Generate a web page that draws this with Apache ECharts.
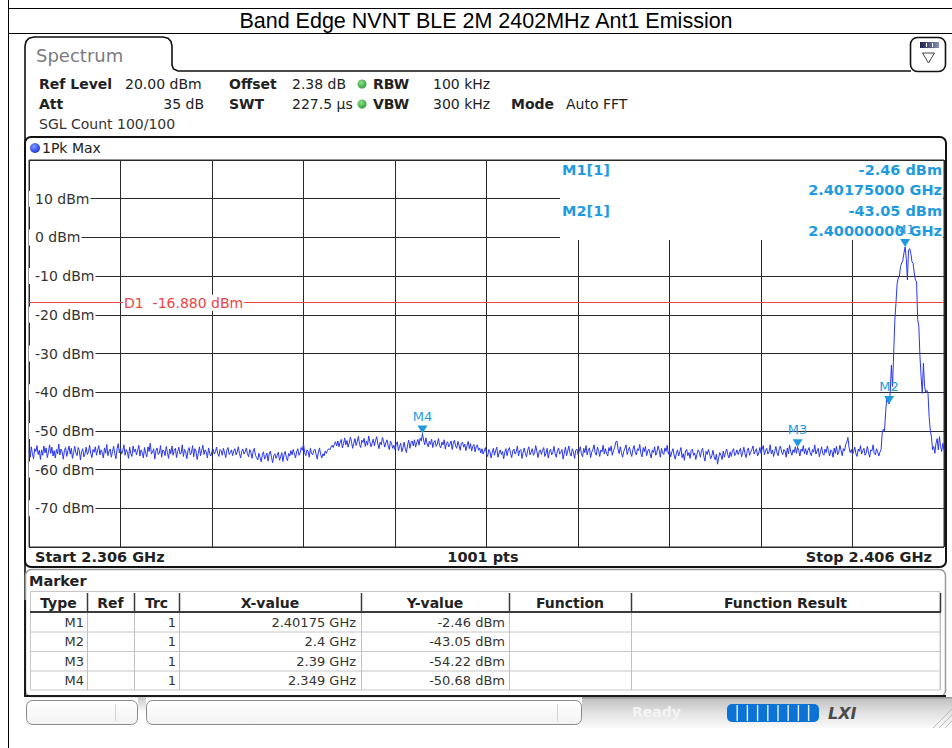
<!DOCTYPE html>
<html>
<head>
<meta charset="utf-8">
<script src="https://cdn.jsdelivr.net/npm/echarts@6/dist/echarts.min.js"></script>
<style>
  html, body { margin: 0; padding: 0; background: #fff; }
  #chart { width: 952px; height: 748px; }
</style>
</head>
<body>
<div id="chart"></div>
<script>
// ---- sweep settings ----
const startGHz = 2.306;
const stopGHz = 2.406;
const sweepPoints = 1001;
const traceStepGHz = 0.000125;         // spacing of the stored trace samples
const displayLineDbm = -16.88;         // D1 limit line

// ---- trace 1 (Pk Max), dBm, one value per 0.125 MHz from 2.306 GHz ----
const traceDbm = [
  -55.2,-56.8,-54.1,-55.9,-57.2,-54.6,-55.3,-53.8,-56.1,-55.0,-57.4,-54.9,-56.3,-53.9,-55.7,-54.4,-56.9,-55.5,-53.6,-55.8,
  -54.2,-56.5,-55.1,-57.0,-54.8,-55.9,-53.4,-56.2,-54.7,-55.4,-57.3,-55.0,-54.3,-56.6,-55.2,-53.9,-56.0,-54.5,-57.1,-55.6,
  -54.0,-55.7,-56.4,-54.3,-55.1,-57.5,-55.3,-54.6,-56.7,-55.9,-54.2,-56.1,-55.4,-53.7,-55.8,-56.9,-54.8,-55.5,-54.1,-56.3,
  -55.0,-53.8,-56.2,-54.9,-55.6,-57.0,-54.4,-55.8,-53.5,-56.4,-55.2,-54.7,-56.8,-55.3,-54.0,-55.9,-57.2,-54.6,-53.3,-55.7,
  -54.5,-56.0,-55.1,-53.6,-56.3,-54.8,-55.5,-57.1,-54.2,-55.9,-56.6,-53.9,-55.4,-54.7,-56.2,-55.0,-53.7,-56.5,-54.9,-55.6,
  -57.0,-54.3,-55.8,-56.7,-54.1,-55.3,-53.2,-56.0,-55.5,-54.6,-57.3,-55.1,-54.4,-56.1,-55.7,-53.8,-56.8,-54.9,-55.2,-56.4,
  -54.0,-55.6,-57.1,-54.7,-55.9,-53.9,-56.3,-55.0,-54.5,-56.9,-55.3,-54.2,-56.0,-55.8,-53.6,-56.6,-54.8,-55.4,-57.2,-55.1,
  -54.3,-56.2,-55.7,-53.8,-56.7,-54.6,-55.2,-57.4,-55.9,-54.1,-56.4,-55.0,-53.7,-56.1,-54.9,-55.5,-57.0,-54.4,-55.8,-56.5,
  -55.3,-54.7,-56.0,-55.4,-54.2,-55.9,-56.6,-54.8,-55.1,-56.3,-54.5,-55.7,-56.9,-55.0,-54.3,-56.1,-55.6,-54.9,-56.4,-55.2,
  -54.6,-56.2,-55.5,-54.1,-55.8,-57.0,-55.3,-54.7,-56.0,-55.4,-54.4,-55.9,-56.7,-54.8,-55.6,-57.1,-55.2,-54.5,-56.3,-56.9,
  -57.5,-55.8,-56.9,-58.0,-56.2,-55.4,-57.3,-56.6,-55.7,-57.8,-56.0,-55.2,-56.8,-58.2,-56.4,-55.9,-57.1,-56.3,-55.5,-57.6,
  -56.7,-55.6,-57.9,-56.1,-55.3,-56.9,-57.7,-55.8,-56.5,-55.1,-56.2,-54.8,-55.9,-57.0,-55.4,-54.6,-56.3,-55.7,-54.3,-55.0,
  -53.4,-55.6,-56.4,-54.9,-55.3,-56.8,-54.5,-55.8,-56.2,-55.1,-54.7,-56.0,-57.3,-55.5,-54.4,-56.1,-57.0,-55.9,-56.5,-55.2,
  -55.8,-55.0,-54.6,-54.9,-54.2,-53.7,-54.3,-53.4,-52.8,-53.9,-52.6,-54.1,-53.0,-52.2,-54.4,-53.3,-51.8,-53.6,-52.5,-54.2,
  -53.1,-51.6,-52.9,-54.5,-53.2,-52.0,-53.8,-52.7,-51.4,-53.5,-54.3,-52.4,-53.0,-51.9,-54.0,-52.6,-53.7,-51.3,-52.8,-54.1,
  -53.2,-52.1,-53.9,-52.5,-51.5,-53.4,-54.6,-52.9,-53.6,-51.7,-52.7,-54.2,-53.1,-52.3,-53.8,-54.8,-52.6,-53.3,-54.5,-53.7,
  -54.9,-53.5,-52.8,-55.1,-54.0,-53.2,-55.4,-54.3,-52.9,-54.7,-55.6,-53.6,-52.4,-54.5,-53.1,-52.6,-53.9,-52.3,-54.2,-53.0,
  -52.2,-53.7,-51.9,-52.6,-50.68,-52.4,-53.6,-51.8,-53.2,-54.1,-52.7,-53.5,-52.1,-54.3,-53.0,-52.5,-54.0,-53.4,-52.0,-53.8,
  -54.4,-52.9,-53.6,-52.3,-54.7,-53.3,-52.8,-54.1,-53.5,-52.6,-54.8,-53.1,-52.4,-53.9,-54.5,-52.7,-53.7,-55.0,-53.2,-52.9,
  -54.2,-53.4,-55.1,-53.8,-52.7,-54.6,-53.3,-55.2,-54.0,-53.5,-55.4,-54.1,-53.6,-55.0,-54.4,-55.7,-54.6,-56.0,-55.2,-54.3,
  -55.9,-56.6,-54.8,-55.4,-57.0,-55.6,-54.5,-56.3,-55.1,-54.2,-56.8,-55.7,-54.9,-56.1,-55.3,-57.2,-55.5,-54.6,-56.4,-55.0,
  -54.3,-55.8,-56.9,-55.2,-54.7,-56.0,-55.4,-53.9,-56.5,-55.1,-54.8,-57.1,-55.6,-54.4,-55.9,-56.7,-55.0,-54.1,-56.2,-55.5,
  -54.6,-56.3,-55.7,-53.8,-55.2,-56.9,-55.4,-54.9,-56.1,-55.0,-54.3,-56.6,-55.8,-54.5,-57.0,-55.3,-54.7,-56.2,-55.6,-54.0,
  -55.9,-56.8,-55.1,-54.4,-56.0,-55.5,-54.8,-57.3,-55.7,-54.2,-56.4,-55.2,-53.9,-55.8,-56.5,-54.6,-55.4,-57.1,-55.0,-54.7,
  -56.1,-55.3,-54.1,-55.9,-56.7,-54.5,-55.6,-53.8,-56.2,-55.0,-54.4,-56.9,-55.5,-54.8,-53.6,-55.7,-56.3,-54.2,-55.1,-56.6,
  -54.9,-55.4,-53.7,-56.0,-54.6,-55.8,-56.5,-54.3,-55.2,-53.9,-56.3,-55.0,-54.4,-52.9,-52.6,-54.7,-55.9,-54.1,-55.6,-56.8,
  -55.3,-54.5,-53.6,-56.1,-55.0,-54.2,-55.7,-56.6,-54.8,-53.8,-55.5,-56.2,-54.6,-55.1,-53.5,-55.9,-56.7,-54.3,-55.4,-54.0,
  -56.4,-55.2,-54.7,-55.8,-57.0,-54.9,-55.6,-54.1,-56.3,-55.5,-53.9,-55.0,-56.8,-54.5,-55.7,-56.1,-54.4,-55.3,-53.7,-56.0,
  -55.1,-56.7,-55.5,-54.6,-56.2,-57.3,-55.8,-54.9,-56.5,-55.4,-54.3,-56.9,-55.9,-57.6,-55.2,-54.8,-56.4,-55.6,-57.1,-55.0,
  -54.7,-56.3,-55.7,-57.4,-56.0,-54.9,-55.5,-56.8,-55.1,-54.5,-56.6,-57.8,-55.3,-56.1,-54.8,-55.9,-57.2,-56.4,-55.0,-56.7,
  -57.5,-56.0,-58.6,-56.9,-55.6,-56.3,-57.4,-55.2,-56.8,-55.5,-54.7,-56.2,-57.0,-55.4,-56.6,-55.1,-54.6,-56.4,-55.8,-54.9,
  -56.1,-55.3,-54.5,-56.7,-55.6,-54.2,-55.9,-56.9,-55.0,-54.4,-56.3,-55.5,-54.8,-53.9,-56.0,-55.2,-54.6,-56.5,-55.7,-54.3,
  -55.8,-54.7,-53.8,-56.2,-55.1,-54.5,-56.0,-55.4,-53.6,-55.9,-54.9,-56.6,-55.3,-54.0,-55.7,-56.4,-54.6,-53.9,-55.5,-56.1,
  -54.8,-55.2,-56.8,-54.4,-55.9,-53.7,-55.4,-56.3,-54.9,-55.6,-54.1,-55.8,-54.22,-55.0,-56.5,-54.7,-55.3,-53.8,-55.9,-54.6,
  -56.2,-55.0,-54.3,-55.7,-56.4,-54.8,-55.5,-53.6,-56.0,-55.2,-54.5,-56.7,-55.4,-54.1,-55.9,-56.3,-54.7,-55.6,-53.9,-55.1,
  -56.5,-54.9,-55.3,-56.8,-54.4,-55.8,-54.0,-56.2,-55.5,-53.7,-55.0,-56.4,-54.6,-55.2,-53.5,-52.9,-51.7,-54.3,-55.6,-54.8,
  -56.1,-55.4,-54.2,-55.9,-56.6,-54.7,-55.3,-53.8,-56.0,-55.1,-54.5,-56.3,-55.7,-54.0,-55.5,-56.8,-54.9,-55.2,-53.6,-55.8,
  -56.2,-54.6,-55.4,-56.5,-55.5,
  -54.8,-50.5,-49.5,-50.0,-45.0,-41.5,-42.5,-43.05,-40.0,-33.0,-38.5,-30.0,-21.5,-17.0,-12.0,
  -10.5,-10.0,-7.5,-6.6,-6.0,-4.0,-2.46,-5.5,-11.0,-3.3,-2.9,-4.1,-6.3,-6.7,-9.2,
  -11.0,-11.4,-21.3,-23.0,-30.8,-36.0,-40.3,-32.5,-38.5,-40.0,-39.5,-40.3,-46.3,-49.8,-51.5,
  -54.9,-54.0,-55.8,-53.2,-52.0,-54.9,-51.5,-54.1,-55.3,-53.2,-54.9
];

// ---- markers ----
const markerNames = ['M1', 'M2', 'M3', 'M4'];
const markerTrace = [1, 1, 1, 1];
const markerFreqGHz = [2.40175, 2.4, 2.39, 2.349];
const markerLevelDbm = [-2.46, -43.05, -54.22, -50.68];

// ---- level axis ----
const levelMinDbm = -80;
const levelMaxDbm = 20;
const levelStepDbm = 10;
const freqDivisions = 10;

// ---- instrument settings shown in the header ----
const settingsRow1 = [['Ref Level', '20.00 dBm'], ['Offset', '2.38 dB'], ['RBW', '100 kHz']];
const settingsRow2 = [['Att', '35 dB'], ['SWT', '227.5 \u00b5s'], ['VBW', '300 kHz'], ['Mode', 'Auto FFT']];
const sweepCountText = 'SGL Count 100/100';
const traceModeText = '1Pk Max';
const titleText = 'Band Edge NVNT BLE 2M 2402MHz Ant1 Emission';
const tableColumns = ['Type', 'Ref', 'Trc', 'X-value', 'Y-value', 'Function', 'Function Result'];

// ---------------------------------------------------------------
const UI = '"DejaVu Sans", Verdana, sans-serif';
const MARK_BLUE = '#1e9be0';
const TRACE_BLUE = '#2a36ee';
const GRID = '#2a2a2a';

const traceData = traceDbm.map((v, i) => [startGHz + i * traceStepGHz, v]);

function T(x, y, text, size, o) {
  o = o || {};
  const align = o.align || 'left';
  return {
    type: 'text', z: o.z != null ? o.z : 20, silent: true,
    style: {
      x: x, y: y, text: text,
      fill: o.color || '#222',
      font: (o.style ? o.style + ' ' : '') + (o.weight || 'normal') + ' ' + size + 'px ' + (o.family || UI),
      textAlign: align, align: align,
      textVerticalAlign: 'middle', verticalAlign: 'middle'
    }
  };
}
function L(x1, y1, x2, y2, color, w, z) {
  return { type: 'line', z: z != null ? z : 20, silent: true,
    shape: { x1: x1, y1: y1, x2: x2, y2: y2 },
    style: { stroke: color, lineWidth: w } };
}
function R(x, y, w, h, o) {
  return { type: 'rect', z: o.z != null ? o.z : 20, silent: true,
    shape: { x: x, y: y, width: w, height: h, r: o.r || 0 },
    style: { fill: o.fill || 'none', stroke: o.stroke || null, lineWidth: o.lw || 1 } };
}
function vgrad(stops) {
  return new echarts.graphic.LinearGradient(0, 0, 0, 1, stops.map(s => ({ offset: s[0], color: s[1] })));
}
function dot(cx, cy, r, inner, outer) {
  return { type: 'circle', z: 20, silent: true, shape: { cx: cx, cy: cy, r: r },
    style: { fill: new echarts.graphic.RadialGradient(0.4, 0.35, 0.7, [{ offset: 0, color: inner }, { offset: 1, color: outer }]) } };
}

const g = [];

// page frame and title
g.push(L(8.5, 0, 8.5, 748, '#000', 1));
g.push(L(8, 8.5, 952, 8.5, '#000', 1));
g.push(L(8, 33.5, 952, 33.5, '#000', 1));
g.push(T(486, 21, titleText, 21.5, { family: '"Liberation Sans", Arial, sans-serif', align: 'center', color: '#000' }));

// tab outline + left frame
g.push({ type: 'polyline', z: 20, silent: true,
  shape: { points: [[25, 697], [25, 46], [26, 41.5], [29, 38.3], [34, 37], [163, 37], [168, 38.3], [171, 41.5], [172, 46],
    [172, 65], [173.5, 69], [178, 71], [911, 71]] },
  style: { fill: 'none', stroke: '#111', lineWidth: 1.6 } });
g.push(T(36, 55, 'Spectrum', 18, { color: '#7c7c7c' }));

// view icon
g.push(R(910.5, 37.5, 35, 34, { r: 7, stroke: '#111', lw: 1.6, fill: '#fff' }));
g.push(R(920, 42, 19, 6, { fill: new echarts.graphic.LinearGradient(0, 0, 1, 0, [{ offset: 0, color: '#1c2250' }, { offset: 1, color: '#8a90b0' }]) }));
g.push(L(926.5, 43, 926.5, 47, '#fff', 1));
g.push(L(932.5, 43, 932.5, 47, '#fff', 1));
g.push({ type: 'polygon', z: 20, silent: true, shape: { points: [[922.5, 53], [934.5, 53], [928.5, 63]] },
  style: { fill: '#fff', stroke: '#444', lineWidth: 1 } });

// header settings
g.push(T(39, 84, settingsRow1[0][0], 14, { weight: 'bold' }));
g.push(T(125, 84, settingsRow1[0][1], 14));
g.push(T(229, 84, settingsRow1[1][0], 14, { weight: 'bold' }));
g.push(T(292, 84, settingsRow1[1][1], 14));
g.push(T(373, 84, settingsRow1[2][0], 14, { weight: 'bold' }));
g.push(T(433, 84, settingsRow1[2][1], 14));
g.push(T(39, 104, settingsRow2[0][0], 14, { weight: 'bold' }));
g.push(T(204, 104, settingsRow2[0][1], 14, { align: 'right' }));
g.push(T(229, 104, settingsRow2[1][0], 14, { weight: 'bold' }));
g.push(T(292, 104, settingsRow2[1][1], 14));
g.push(T(373, 104, settingsRow2[2][0], 14, { weight: 'bold' }));
g.push(T(433, 104, settingsRow2[2][1], 14));
g.push(T(511, 104, settingsRow2[3][0], 14, { weight: 'bold' }));
g.push(T(566, 104, settingsRow2[3][1], 14));
g.push(dot(362, 84, 4.5, '#8fe08f', '#2f9a35'));
g.push(dot(362, 104, 4.5, '#8fe08f', '#2f9a35'));
g.push(T(39, 124, sweepCountText, 14, { color: '#333' }));

// diagram frame
g.push(R(25, 137, 921, 430, { r: 6, stroke: '#111', lw: 2 }));
g.push(dot(35, 148, 5, '#7f9cff', '#1530d8'));
g.push(T(42, 148, traceModeText, 14));
g.push(T(35, 557, 'Start ' + startGHz + ' GHz', 14.5, { weight: 'bold' }));
g.push(T(483, 557, sweepPoints + ' pts', 14.5, { weight: 'bold', align: 'center' }));
g.push(T(932, 557, 'Stop ' + stopGHz + ' GHz', 14.5, { weight: 'bold', align: 'right' }));

// marker readout (M1, M2)
g.push(R(560, 161, 383, 79, { fill: '#fff', z: 1 }));
[0, 1].forEach(k => {
  const y0 = 170 + k * 41;
  g.push(T(562, y0, markerNames[k] + '[' + markerTrace[k] + ']', 14.5, { weight: 'bold', color: MARK_BLUE, z: 3 }));
  g.push(T(942, y0, markerLevelDbm[k].toFixed(2) + ' dBm', 14.5, { weight: 'bold', color: MARK_BLUE, align: 'right', z: 3 }));
  g.push(T(942, y0 + 19.5, markerFreqGHz[k].toFixed(8) + ' GHz', 14.5, { weight: 'bold', color: MARK_BLUE, align: 'right', z: 3 }));
});

// marker table
g.push(R(25.5, 569.5, 920, 127, { r: 6, stroke: '#9a9a9a', lw: 1.5, fill: 'none' }));
g.push(L(25, 696, 946, 696, '#1a1a1a', 2));
g.push(L(25, 600, 25, 697, '#1a1a1a', 2));
g.push(T(29, 581, 'Marker', 14.5, { weight: 'bold' }));
const colX = [30, 87, 134, 179, 361, 509, 631, 940];
g.push(R(30.5, 591.5, 909.5, 98.5, { stroke: '#c6c6c6', lw: 1 }));
for (let c = 1; c < colX.length; c++) {
  g.push(L(colX[c] + 0.5, 593, colX[c] + 0.5, 612, '#3a3a3a', 1.5));
  g.push(L(colX[c] + 0.5, 612, colX[c] + 0.5, 690, '#c0c0c0', 1));
}
g.push(L(30, 612, 941, 612, '#3a3a3a', 2));
tableColumns.forEach((name, c) => {
  g.push(T((colX[c] + colX[c + 1]) / 2, 602.5, name, 14, { weight: 'bold', align: 'center' }));
});
markerNames.forEach((name, r) => {
  const y = 622 + r * 19.5;
  if (r > 0) g.push(L(30, y - 9.5, 940, y - 9.5, '#c6c6c6', 1));
  g.push(T(84, y, name, 13, { align: 'right', color: '#333' }));
  g.push(T(176, y, String(markerTrace[r]), 13, { align: 'right', color: '#333' }));
  g.push(T(356, y, markerFreqGHz[r] + ' GHz', 13, { align: 'right', color: '#333' }));
  g.push(T(505, y, markerLevelDbm[r].toFixed(2) + ' dBm', 13, { align: 'right', color: '#333' }));
});

// status bar
g.push(R(582, 697, 370, 31, { fill: vgrad([[0, '#8c8c8c'], [0.08, '#c2c2c2'], [0.45, '#dedede'], [1, '#fbfbfb']]) }));
g.push(R(138, 697, 8, 16, { fill: vgrad([[0, '#c8c8c8'], [1, '#ffffff']]) }));
g.push(R(26.5, 700.5, 111, 24, { r: 6, stroke: '#8a8a8a', fill: vgrad([[0, '#ffffff'], [1, '#f2f2f2']]) }));
g.push(L(115.5, 704, 115.5, 721, '#d4d4d4', 1));
g.push(R(146.5, 700.5, 435, 24, { r: 6, stroke: '#8a8a8a', fill: vgrad([[0, '#ffffff'], [1, '#f2f2f2']]) }));
g.push(L(557.5, 704, 557.5, 721, '#d4d4d4', 1));
g.push(T(632, 712, 'Ready', 14, { weight: 'bold', color: '#f4f4f4' }));
g.push(R(727, 704, 92, 18, { r: 5, fill: '#0b72d6' }));
for (let k = 1; k <= 8; k++) {
  const x = 727 + k * 10.2;
  g.push(L(x, 705, x, 721, 'rgba(255,255,255,0.9)', 1.4));
}
g.push(T(828, 713, 'LXI', 16, { weight: 'bold', style: 'italic', color: '#4a4a4a' }));
[[933, 728, 952, 709], [939, 728, 952, 715], [945, 728, 952, 721]].forEach(s => g.push(L(s[0], s[1], s[2], s[3], '#bdbdbd', 1)));

// ---------------------------------------------------------------
const chart = echarts.init(document.getElementById('chart'), null, { renderer: 'svg' });
chart.setOption({
  animation: false,
  backgroundColor: '#fff',
  grid: { left: 29, top: 160, width: 915, height: 387, show: true, borderColor: GRID, borderWidth: 1, backgroundColor: 'transparent' },
  xAxis: [
    {
      type: 'value', min: startGHz, max: stopGHz,
      axisLine: { show: false }, axisTick: { show: false }, axisLabel: { show: false }, splitLine: { show: false }
    },
    {
      // span divisions (10 per sweep)
      type: 'value', min: 0, max: freqDivisions, interval: 1, position: 'bottom', z: 0,
      axisLine: { show: false }, axisTick: { show: false }, axisLabel: { show: false },
      splitLine: { show: true, lineStyle: { color: GRID, width: 1 } }
    }
  ],
  yAxis: [
    {
      type: 'value', min: levelMinDbm, max: levelMaxDbm, interval: levelStepDbm, z: 0,
      axisLine: { show: false }, axisTick: { show: false }, axisLabel: { show: false },
      splitLine: { show: true, lineStyle: { color: GRID, width: 1 } }
    },
    {
      type: 'value', min: levelMinDbm, max: levelMaxDbm, interval: levelStepDbm, position: 'left', z: 1,
      axisLine: { show: false }, axisTick: { show: false }, splitLine: { show: false },
      axisLabel: {
        inside: true, margin: 0, align: 'left', showMinLabel: false, showMaxLabel: false,
        formatter: v => v + ' dBm', color: '#333', fontSize: 14, fontFamily: UI,
        backgroundColor: '#fff', padding: [1, 1, 1, 6]
      }
    }
  ],
  series: [
    {
      name: 'Trace 1', type: 'line', data: traceData, z: 2, xAxisIndex: 0, yAxisIndex: 0,
      showSymbol: false, symbol: 'none', silent: true,
      lineStyle: { color: TRACE_BLUE, width: 1 },
      markLine: {
        silent: true, symbol: 'none', z: 5, animation: false,
        lineStyle: { color: '#ef4444', width: 1, type: 'solid' },
        label: {
          show: true, position: 'insideStart', distance: [94, 0],
          formatter: () => 'D1  ' + displayLineDbm.toFixed(3) + ' dBm',
          color: '#ef4444', fontSize: 14, fontFamily: UI,
          backgroundColor: '#fff', padding: [1, 1]
        },
        data: [{ yAxis: displayLineDbm }]
      },
      markPoint: {
        silent: true, z: 6, animation: false,
        symbol: 'triangle', symbolSize: [10, 8], symbolRotate: 180, symbolOffset: [0, -4],
        itemStyle: { color: MARK_BLUE },
        label: { show: true, position: 'top', distance: 3, color: MARK_BLUE, fontSize: 13, fontFamily: UI, formatter: p => p.name },
        data: markerNames.map((n, k) => ({ name: n, coord: [markerFreqGHz[k], markerLevelDbm[k]] }))
      }
    }
  ],
  graphic: { elements: g }
});
</script>
</body>
</html>
